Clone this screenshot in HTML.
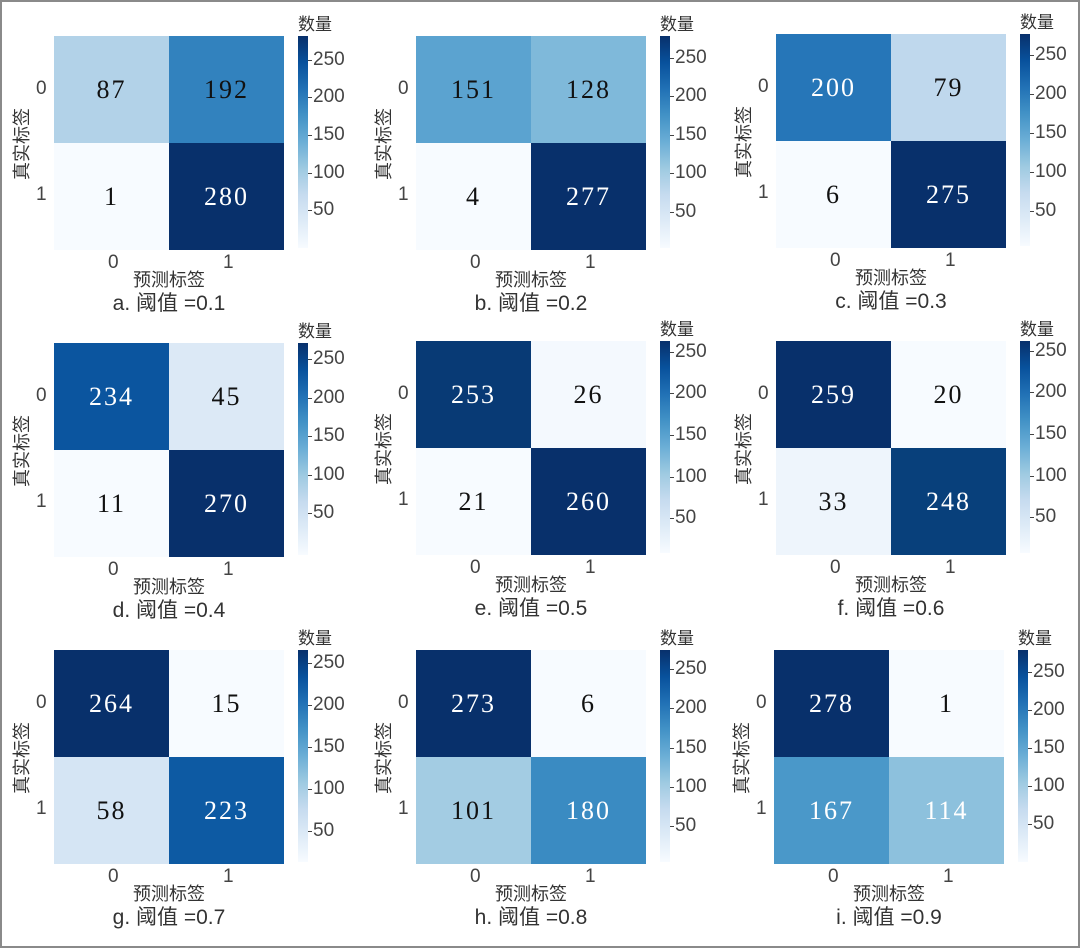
<!DOCTYPE html>
<html><head><meta charset="utf-8"><style>
body{margin:0;width:1080px;height:948px;background:#fff;position:relative;overflow:hidden;font-family:"Liberation Sans","Noto Sans CJK SC",sans-serif}
.frame{position:absolute;left:0;top:0;width:1076px;height:944px;border:2px solid #8a8a8a}
.p{position:absolute;width:1px;height:1px}
.c{position:absolute;width:115px;height:107px;display:flex;align-items:center;justify-content:center;font-family:"Liberation Serif",serif;font-size:26px;letter-spacing:2px;color:#111}
.w{color:#fff}
.yt{position:absolute;left:-18px;font-size:19px;color:#444}
.xt{position:absolute;top:216px;font-size:19px;color:#444}
.yl{position:absolute;left:-78px;top:95px;width:90px;text-align:center;transform:rotate(-90deg);font-size:18px;color:#333;white-space:nowrap}
.xl{position:absolute;left:70px;top:230px;width:90px;text-align:center;font-size:18px;color:#333;white-space:nowrap}
.cap{position:absolute;left:-35px;top:251px;width:300px;text-align:center;font-size:21px;color:#333;white-space:nowrap}
.cb{position:absolute;left:244px;top:0;width:10px;height:212px;background:linear-gradient(to bottom,#08306b,#08519c 12.5%,#2171b5 25%,#4292c6 37.5%,#6baed6 50%,#9ecae1 62.5%,#c6dbef 75%,#deebf7 87.5%,#f7fbff)}
.ct{position:absolute;left:254px;height:20px;margin-top:-9px;display:flex;align-items:center;font-size:19px;color:#444;white-space:nowrap}
.ct:before{content:"";display:block;width:4px;height:1px;background:#444;margin-right:1px}
.q{position:absolute;left:244px;top:-26px;font-size:17px;color:#333;white-space:nowrap}
</style></head><body>
<div class="frame"></div>

<div class="p" style="left:54px;top:36px">
<div class="c" style="left:0;top:0;background:#b2d2e8">87</div>
<div class="c" style="left:115px;top:0;background:#3282be">192</div>
<div class="c" style="left:0;top:107px;background:#f7fbff">1</div>
<div class="c w" style="left:115px;top:107px;background:#08306b">280</div>
<div class="yt" style="top:42px">0</div><div class="yt" style="top:148px">1</div>
<div class="xt" style="left:54px">0</div><div class="xt" style="left:169px">1</div>
<div class="yl">真实标签</div><div class="xl">预测标签</div><div class="cap">a. 阈值 =0.1</div>
<div class="cb"></div><div class="q">数量</div>
<div class="ct" style="top:23px">250</div><div class="ct" style="top:60px">200</div><div class="ct" style="top:98px">150</div><div class="ct" style="top:136px">100</div><div class="ct" style="top:173px">50</div>
</div>

<div class="p" style="left:416px;top:36px">
<div class="c" style="left:0;top:0;background:#5ba3d0">151</div>
<div class="c" style="left:115px;top:0;background:#7fb9da">128</div>
<div class="c" style="left:0;top:107px;background:#f7fbff">4</div>
<div class="c w" style="left:115px;top:107px;background:#08306b">277</div>
<div class="yt" style="top:42px">0</div><div class="yt" style="top:148px">1</div>
<div class="xt" style="left:54px">0</div><div class="xt" style="left:169px">1</div>
<div class="yl">真实标签</div><div class="xl">预测标签</div><div class="cap">b. 阈值 =0.2</div>
<div class="cb"></div><div class="q">数量</div>
<div class="ct" style="top:21px">250</div><div class="ct" style="top:59px">200</div><div class="ct" style="top:98px">150</div><div class="ct" style="top:136px">100</div><div class="ct" style="top:175px">50</div>
</div>

<div class="p" style="left:776px;top:34px">
<div class="c w" style="left:0;top:0;background:#2676b8">200</div>
<div class="c" style="left:115px;top:0;background:#bfd8ed">79</div>
<div class="c" style="left:0;top:107px;background:#f7fbff">6</div>
<div class="c w" style="left:115px;top:107px;background:#08306b">275</div>
<div class="yt" style="top:42px">0</div><div class="yt" style="top:148px">1</div>
<div class="xt" style="left:54px">0</div><div class="xt" style="left:169px">1</div>
<div class="yl">真实标签</div><div class="xl">预测标签</div><div class="cap">c. 阈值 =0.3</div>
<div class="cb"></div><div class="q">数量</div>
<div class="ct" style="top:20px">250</div><div class="ct" style="top:59px">200</div><div class="ct" style="top:98px">150</div><div class="ct" style="top:137px">100</div><div class="ct" style="top:176px">50</div>
</div>

<div class="p" style="left:54px;top:343px">
<div class="c w" style="left:0;top:0;background:#0b559f">234</div>
<div class="c" style="left:115px;top:0;background:#dce9f6">45</div>
<div class="c" style="left:0;top:107px;background:#f7fbff">11</div>
<div class="c w" style="left:115px;top:107px;background:#08306b">270</div>
<div class="yt" style="top:42px">0</div><div class="yt" style="top:148px">1</div>
<div class="xt" style="left:54px">0</div><div class="xt" style="left:169px">1</div>
<div class="yl">真实标签</div><div class="xl">预测标签</div><div class="cap">d. 阈值 =0.4</div>
<div class="cb"></div><div class="q">数量</div>
<div class="ct" style="top:15px">250</div><div class="ct" style="top:54px">200</div><div class="ct" style="top:92px">150</div><div class="ct" style="top:131px">100</div><div class="ct" style="top:169px">50</div>
</div>

<div class="p" style="left:416px;top:341px">
<div class="c w" style="left:0;top:0;background:#083a75">253</div>
<div class="c" style="left:115px;top:0;background:#f4f9fe">26</div>
<div class="c" style="left:0;top:107px;background:#f7fbff">21</div>
<div class="c w" style="left:115px;top:107px;background:#08306b">260</div>
<div class="yt" style="top:42px">0</div><div class="yt" style="top:148px">1</div>
<div class="xt" style="left:54px">0</div><div class="xt" style="left:169px">1</div>
<div class="yl">真实标签</div><div class="xl">预测标签</div><div class="cap">e. 阈值 =0.5</div>
<div class="cb"></div><div class="q">数量</div>
<div class="ct" style="top:10px">250</div><div class="ct" style="top:51px">200</div><div class="ct" style="top:93px">150</div><div class="ct" style="top:135px">100</div><div class="ct" style="top:176px">50</div>
</div>

<div class="p" style="left:776px;top:341px">
<div class="c w" style="left:0;top:0;background:#08306b">259</div>
<div class="c" style="left:115px;top:0;background:#f7fbff">20</div>
<div class="c" style="left:0;top:107px;background:#eef5fc">33</div>
<div class="c w" style="left:115px;top:107px;background:#08407b">248</div>
<div class="yt" style="top:42px">0</div><div class="yt" style="top:148px">1</div>
<div class="xt" style="left:54px">0</div><div class="xt" style="left:169px">1</div>
<div class="yl">真实标签</div><div class="xl">预测标签</div><div class="cap">f. 阈值 =0.6</div>
<div class="cb"></div><div class="q">数量</div>
<div class="ct" style="top:9px">250</div><div class="ct" style="top:50px">200</div><div class="ct" style="top:92px">150</div><div class="ct" style="top:134px">100</div><div class="ct" style="top:175px">50</div>
</div>

<div class="p" style="left:54px;top:650px">
<div class="c w" style="left:0;top:0;background:#08306b">264</div>
<div class="c" style="left:115px;top:0;background:#f7fbff">15</div>
<div class="c" style="left:0;top:107px;background:#d5e5f4">58</div>
<div class="c w" style="left:115px;top:107px;background:#0d5aa3">223</div>
<div class="yt" style="top:42px">0</div><div class="yt" style="top:148px">1</div>
<div class="xt" style="left:54px">0</div><div class="xt" style="left:169px">1</div>
<div class="yl">真实标签</div><div class="xl">预测标签</div><div class="cap">g. 阈值 =0.7</div>
<div class="cb"></div><div class="q">数量</div>
<div class="ct" style="top:12px">250</div><div class="ct" style="top:54px">200</div><div class="ct" style="top:96px">150</div><div class="ct" style="top:138px">100</div><div class="ct" style="top:180px">50</div>
</div>

<div class="p" style="left:416px;top:650px">
<div class="c w" style="left:0;top:0;background:#08306b">273</div>
<div class="c" style="left:115px;top:0;background:#f7fbff">6</div>
<div class="c" style="left:0;top:107px;background:#a3cce3">101</div>
<div class="c w" style="left:115px;top:107px;background:#3a8bc2">180</div>
<div class="yt" style="top:42px">0</div><div class="yt" style="top:148px">1</div>
<div class="xt" style="left:54px">0</div><div class="xt" style="left:169px">1</div>
<div class="yl">真实标签</div><div class="xl">预测标签</div><div class="cap">h. 阈值 =0.8</div>
<div class="cb"></div><div class="q">数量</div>
<div class="ct" style="top:18px">250</div><div class="ct" style="top:57px">200</div><div class="ct" style="top:97px">150</div><div class="ct" style="top:136px">100</div><div class="ct" style="top:175px">50</div>
</div>

<div class="p" style="left:774px;top:650px">
<div class="c w" style="left:0;top:0;background:#08306b">278</div>
<div class="c" style="left:115px;top:0;background:#f7fbff">1</div>
<div class="c w" style="left:0;top:107px;background:#4a98c9">167</div>
<div class="c w" style="left:115px;top:107px;background:#8dc1dd">114</div>
<div class="yt" style="top:42px">0</div><div class="yt" style="top:148px">1</div>
<div class="xt" style="left:54px">0</div><div class="xt" style="left:169px">1</div>
<div class="yl">真实标签</div><div class="xl">预测标签</div><div class="cap">i. 阈值 =0.9</div>
<div class="cb"></div><div class="q">数量</div>
<div class="ct" style="top:21px">250</div><div class="ct" style="top:59px">200</div><div class="ct" style="top:97px">150</div><div class="ct" style="top:135px">100</div><div class="ct" style="top:173px">50</div>
</div>
</body></html>
